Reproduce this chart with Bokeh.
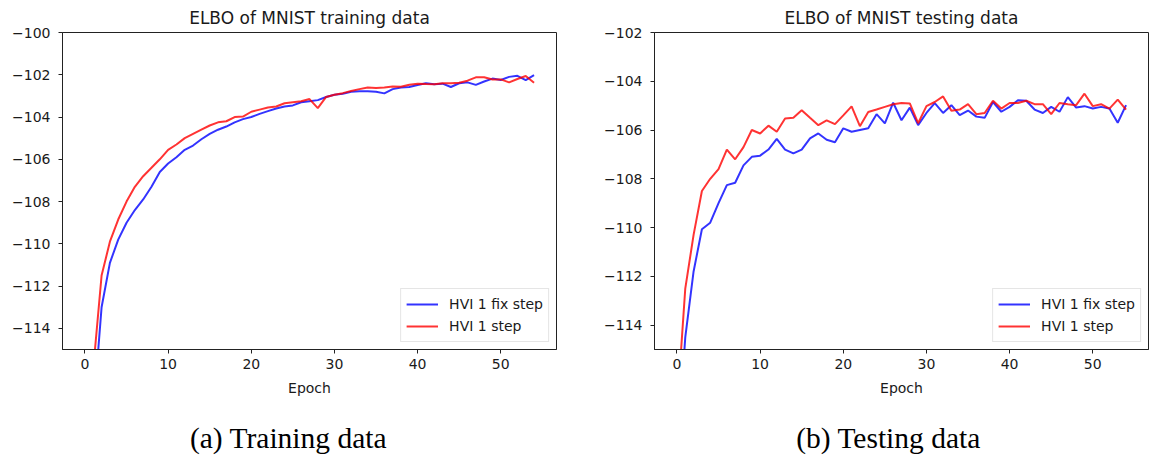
from bokeh.plotting import figure
from bokeh.models import Range1d, Legend, LegendItem, FixedTicker
from bokeh.layouts import row, column
from bokeh.core.properties import value
from bokeh.embed import file_html
from bokeh.resources import INLINE

# ---------------- data ----------------
epochs = list(range(55))

train_fix = [-135.0, -118.0, -113.0, -110.9, -109.8, -109.0, -108.4, -107.9, -107.3, -106.6,
             -106.2, -105.9, -105.55, -105.35, -105.05, -104.8, -104.6, -104.45, -104.25, -104.1,
             -104.0, -103.85, -103.72, -103.6, -103.5, -103.45, -103.3, -103.25, -103.2, -103.05,
             -102.95, -102.9, -102.8, -102.78, -102.78, -102.8, -102.88, -102.68, -102.6, -102.58,
             -102.48, -102.4, -102.45, -102.42, -102.58, -102.4, -102.36, -102.48, -102.32, -102.18,
             -102.25, -102.1, -102.05, -102.25, -102.02]
train_step = [-130.0, -115.9, -111.5, -109.9, -108.85, -108.0, -107.3, -106.8, -106.4, -106.0,
              -105.55, -105.3, -105.0, -104.8, -104.6, -104.4, -104.25, -104.2, -104.0, -103.98,
              -103.75, -103.65, -103.55, -103.5, -103.35, -103.3, -103.25, -103.15, -103.58, -103.05,
              -102.95, -102.87, -102.77, -102.68, -102.6, -102.63, -102.6, -102.55, -102.57, -102.47,
              -102.42, -102.44, -102.45, -102.4, -102.4, -102.38, -102.28, -102.12, -102.12, -102.22,
              -102.22, -102.36, -102.2, -102.06, -102.38]

test_fix = [-119.5, -114.5, -111.8, -110.07, -109.8, -109.0, -108.26, -108.16, -107.45, -107.1,
            -107.05, -106.8, -106.36, -106.8, -106.96, -106.8, -106.34, -106.14, -106.4, -106.5,
            -105.93, -106.07, -106.0, -105.93, -105.35, -105.73, -104.88, -105.6, -105.08, -105.8,
            -105.3, -104.9, -105.3, -104.98, -105.39, -105.2, -105.45, -105.5, -104.85, -105.25,
            -105.05, -104.78, -104.8, -105.16, -105.3, -105.05, -105.25, -104.65, -105.08, -105.02,
            -105.12, -105.05, -105.12, -105.7, -104.98]
test_step = [-117.5, -112.5, -110.3, -108.5, -108.0, -107.6, -106.8, -107.2, -106.7, -106.0,
             -106.14, -105.82, -106.07, -105.53, -105.5, -105.19, -105.5, -105.8, -105.6, -105.76,
             -105.4, -105.03, -105.84, -105.26, -105.16, -105.05, -104.94, -104.89, -104.91, -105.72,
             -105.02, -104.85, -104.62, -105.21, -105.16, -104.94, -105.35, -105.3, -104.8, -105.12,
             -104.89, -104.89, -104.8, -104.94, -104.94, -105.35, -104.89, -104.94, -104.98, -104.51,
             -105.02, -104.94, -105.12, -104.75, -105.16]

series_names = ["HVI 1 fix step", "HVI 1 step"]
titles = ["ELBO of MNIST training data", "ELBO of MNIST testing data"]
captions = ["(a) Training data", "(b) Testing data"]
x_label = "Epoch"
x_ticks = [0, 10, 20, 30, 40, 50]
y_ticks_train = [-114, -112, -110, -108, -106, -104, -102, -100]
y_ticks_test = [-114, -112, -110, -108, -106, -104, -102]
y_range_train = (-115, -100)
y_range_test = (-115, -102)
x_range = (-2.7, 56.7)

FONT = "DejaVu Sans"
TXT = "#1a1a1a"
PANEL_W = 575
PLOT_H = 415
CAP_H = 42


def make_plot(title, fix, step, yr, yticks, border_left, border_right):
    p = figure(width=PANEL_W, height=PLOT_H, output_backend="svg", toolbar_location=None,
               x_range=Range1d(*x_range), y_range=Range1d(*yr),
               min_border_left=border_left, min_border_right=border_right,
               min_border_top=29, min_border_bottom=PLOT_H - 349)
    p.title.text = title
    p.title.align = "center"
    p.title.text_font = FONT
    p.title.text_font_size = "17px"
    p.title.text_font_style = "normal"
    p.title.text_color = TXT
    p.title.standoff = 10

    p.xgrid.visible = False
    p.ygrid.visible = False
    p.outline_line_color = "#222222"
    p.outline_line_width = 1
    p.outline_line_alpha = 1
    p.background_fill_color = "white"
    p.border_fill_color = "white"

    for ax in (p.xaxis[0], p.yaxis[0]):
        ax.axis_line_color = "#222222"
        ax.major_tick_line_color = "#222222"
        ax.major_tick_in = 0
        ax.major_tick_out = 4
        ax.minor_tick_line_color = None
        ax.major_label_text_font = FONT
        ax.major_label_text_font_size = "14px"
        ax.major_label_text_color = TXT

    p.xaxis.ticker = FixedTicker(ticks=x_ticks)
    p.xaxis.major_label_standoff = 5
    p.xaxis.axis_label = x_label
    p.xaxis.axis_label_text_font = FONT
    p.xaxis.axis_label_text_font_size = "14px"
    p.xaxis.axis_label_text_font_style = "normal"
    p.xaxis.axis_label_text_color = TXT
    p.xaxis.axis_label_standoff = 8

    p.yaxis.ticker = FixedTicker(ticks=yticks)
    p.yaxis.major_label_standoff = 8
    p.yaxis.major_label_overrides = {t: ("\u2212" + str(abs(t)) if t < 0 else str(t)) for t in yticks}

    r1 = p.line(epochs, fix, line_color="#0000ff", line_alpha=0.8, line_width=2)
    r2 = p.line(epochs, step, line_color="#ff0000", line_alpha=0.8, line_width=2)

    legend = Legend(items=[LegendItem(label=series_names[0], renderers=[r1]),
                           LegendItem(label=series_names[1], renderers=[r2])],
                    location="bottom_right")
    legend.label_text_font = FONT
    legend.label_text_font_size = "14px"
    legend.label_text_color = TXT
    legend.glyph_width = 32
    legend.glyph_height = 20
    legend.label_height = 20
    legend.spacing = 2
    legend.padding = 5
    legend.margin = 7
    legend.label_standoff = 11
    legend.border_line_color = "#cccccc"
    legend.border_line_width = 1
    legend.background_fill_alpha = 0.8
    p.add_layout(legend)
    return p


def make_caption(text, cx):
    c = figure(width=PANEL_W, height=CAP_H, output_backend="svg", toolbar_location=None,
               x_range=Range1d(0, PANEL_W), y_range=Range1d(0, CAP_H),
               x_axis_type=None, y_axis_type=None, min_border=0)
    c.grid.visible = False
    c.outline_line_color = None
    c.background_fill_color = "white"
    c.border_fill_color = "white"
    c.text(x=[cx], y=[CAP_H - 22], text=[text], text_align="center", text_baseline="middle",
           text_font=value("Liberation Serif"), text_font_size="29.5px", text_color="black")
    return c


p1 = make_plot(titles[0], train_fix, train_step, y_range_train, y_ticks_train, 62, 19)
p2 = make_plot(titles[1], test_fix, test_step, y_range_test, y_ticks_test, 79, 2)
c1 = make_caption(captions[0], 288)
c2 = make_caption(captions[1], 888 - PANEL_W)

layout = column(row(p1, p2), row(c1, c2))
open("out.html", "w").write(file_html(layout, INLINE))
